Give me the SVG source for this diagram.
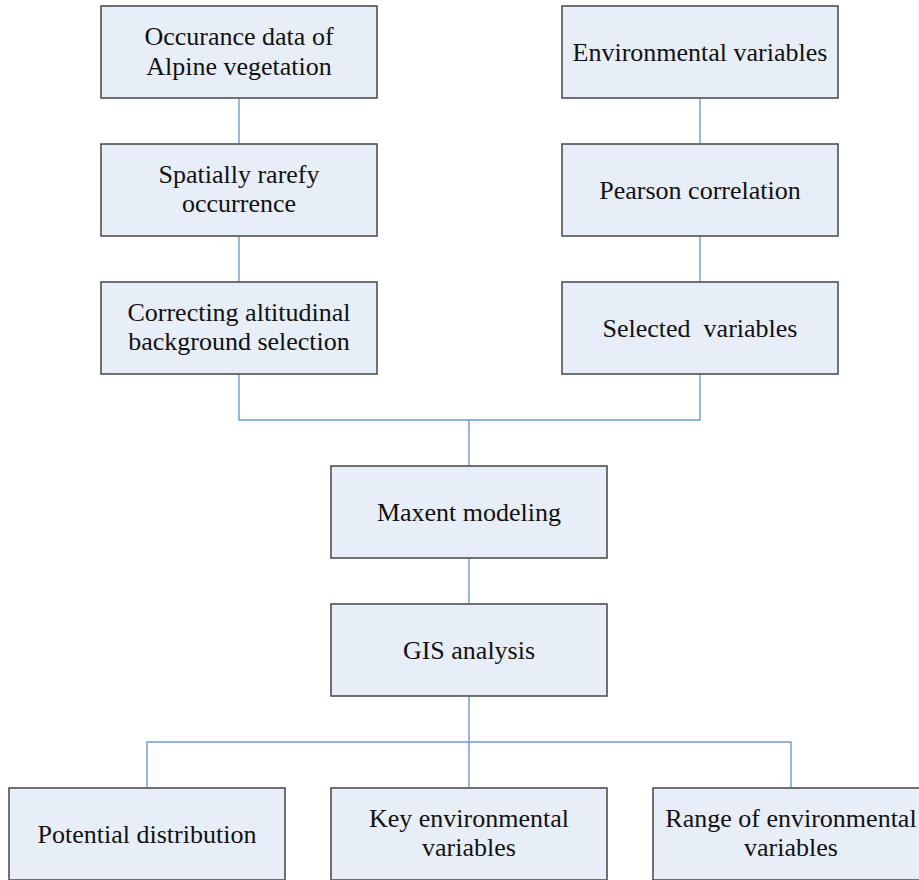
<svg xmlns="http://www.w3.org/2000/svg" width="919" height="880" viewBox="0 0 919 880">
<style>
.box{fill:#e8eef7;stroke:#505050;stroke-width:1.6}
.t{font-family:"Liberation Serif","Times New Roman",serif;font-size:26px;fill:#111;text-anchor:middle;white-space:pre}
.c{fill:none;stroke:#6f98cc;stroke-width:1.4}
</style>
<rect width="919" height="880" fill="#ffffff"/>
<g id="connectors">
<path class="c" d="M239,98 V144"/>
<path class="c" d="M239,236 V282"/>
<path class="c" d="M700,98 V144"/>
<path class="c" d="M700,236 V282"/>
<path class="c" d="M239,374 V420 H700 V374"/>
<path class="c" d="M469,420 V466"/>
<path class="c" d="M469,558 V604"/>
<path class="c" d="M469,696 V788"/>
<path class="c" d="M147,788 V742 H791 V788"/>
</g>
<g id="n1"><rect class="box" x="101" y="6" width="276" height="92"/><text class="t" x="239" y="45">Occurance data of</text><text class="t" x="239" y="75">Alpine vegetation</text></g>
<g id="n2"><rect class="box" x="101" y="144" width="276" height="92"/><text class="t" x="239" y="183">Spatially rarefy</text><text class="t" x="239" y="212">occurrence</text></g>
<g id="n3"><rect class="box" x="101" y="282" width="276" height="92"/><text class="t" x="239" y="321">Correcting altitudinal</text><text class="t" x="239" y="350">background selection</text></g>
<g id="n4"><rect class="box" x="562" y="6" width="276" height="92"/><text class="t" x="700" y="61">Environmental variables</text></g>
<g id="n5"><rect class="box" x="562" y="144" width="276" height="92"/><text class="t" x="700" y="199">Pearson correlation</text></g>
<g id="n6"><rect class="box" x="562" y="282" width="276" height="92"/><text class="t" x="700" y="337" xml:space="preserve">Selected  variables</text></g>
<g id="n7"><rect class="box" x="331" y="466" width="276" height="92"/><text class="t" x="469" y="521">Maxent modeling</text></g>
<g id="n8"><rect class="box" x="331" y="604" width="276" height="92"/><text class="t" x="469" y="659">GIS analysis</text></g>
<g id="n9"><rect class="box" x="9" y="788" width="276" height="92"/><text class="t" x="147" y="843">Potential distribution</text></g>
<g id="n10"><rect class="box" x="331" y="788" width="276" height="92"/><text class="t" x="469" y="827">Key environmental</text><text class="t" x="469" y="856">variables</text></g>
<g id="n11"><rect class="box" x="653" y="788" width="276" height="92"/><text class="t" x="791" y="827">Range of environmental</text><text class="t" x="791" y="856">variables</text></g>
</svg>
